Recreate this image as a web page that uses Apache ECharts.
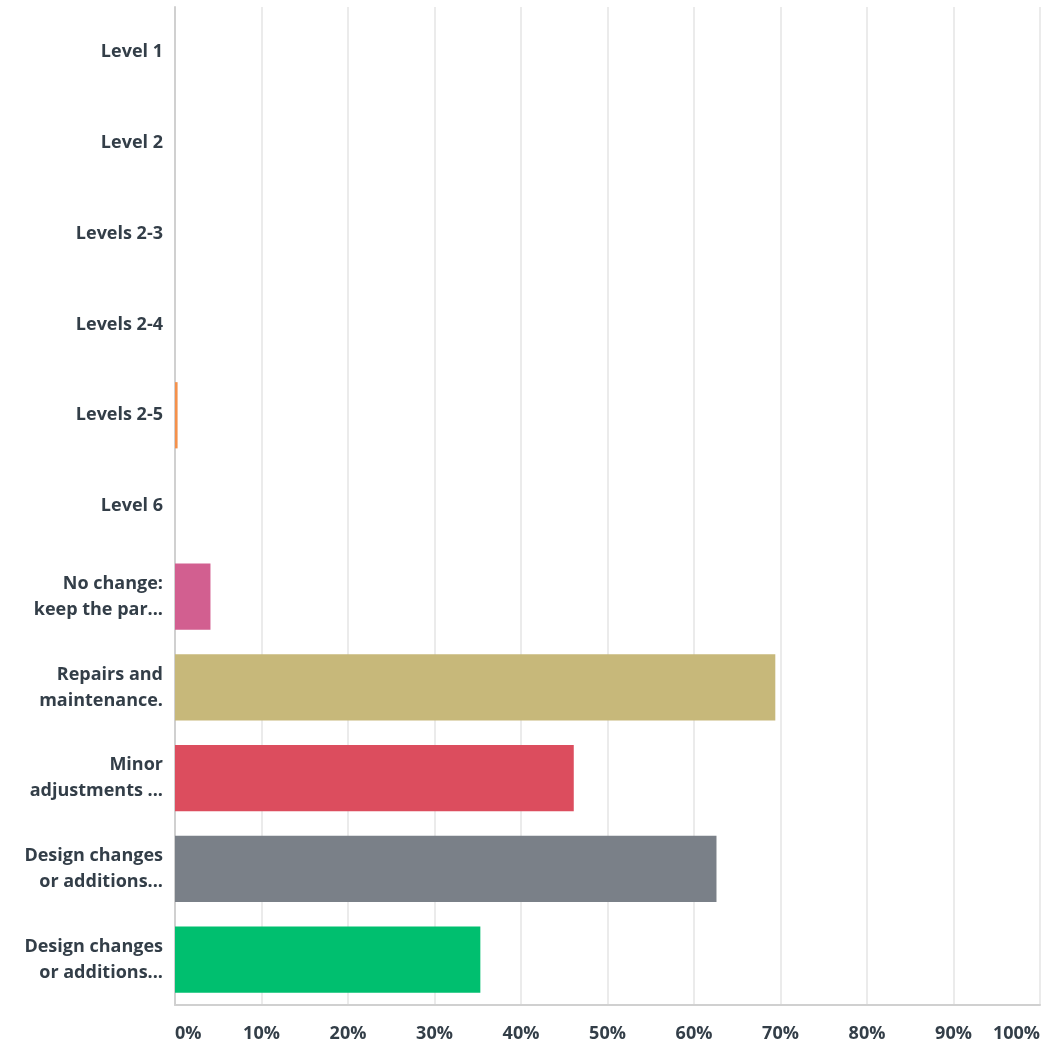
<!DOCTYPE html>
<html lang="en">
<head>
    <meta charset="UTF-8">
    <title>Chart</title>
    <script src="https://cdn.jsdelivr.net/npm/echarts@6/dist/echarts.min.js"></script>
    <style>
        html, body { margin: 0; padding: 0; background: #fff; }
        #main { width: 1043px; height: 1046px; }
    </style>
</head>
<body>
<div id="main"></div>
<script>
    var categories = ['Level 1', 'Level 2', 'Levels 2-3', 'Levels 2-4', 'Levels 2-5', 'Level 6',
        'No change:\nkeep the par...', 'Repairs and\nmaintenance.', 'Minor\nadjustments ...',
        'Design changes\nor additions...', 'Design changes\nor additions...'];
    var values = [0, 0, 0, 0, 0.3, 0, 4.1, 69.4, 46.1, 62.6, 35.3];
    var colors = ['#00bf6f', '#507cb6', '#6bc8cd', '#f9be00', '#f4914c', '#9d64b5',
        '#d25f90', '#c7b87a', '#dc4d5e', '#7a8088', '#00bf6f'];
    var tickLabels = ['0%', '10%', '20%', '30%', '40%', '50%', '60%', '70%', '80%', '90%', '100%'];

    var chart = echarts.init(document.getElementById('main'));
    var font = '"Open Sans", sans-serif';
    var option = {
        animation: false,
        grid: { left: 175, right: 1, top: 7, bottom: 41, containLabel: false },
        xAxis: {
            type: 'value',
            min: 0,
            max: 100,
            interval: 10,
            axisLine: { show: true, lineStyle: { color: '#d0d0d0', width: 2 } },
            axisTick: { show: false },
            splitLine: { show: true, lineStyle: { color: '#ebebeb', width: 2 } },
            axisLabel: {
                margin: 20,
                color: '#333e48',
                fontFamily: font,
                fontWeight: 'bold',
                fontSize: 18,
                alignMinLabel: 'left',
                alignMaxLabel: 'right',
                formatter: function (v) { return tickLabels[Math.round(v / 10)]; }
            }
        },
        yAxis: {
            type: 'category',
            inverse: true,
            data: categories,
            axisLine: { show: true, lineStyle: { color: '#d0d0d0', width: 2 } },
            axisTick: { show: false },
            axisLabel: {
                margin: 12,
                color: '#333e48',
                fontFamily: font,
                fontWeight: 'bold',
                fontSize: 18,
                lineHeight: 26,
                align: 'right'
            }
        },
        series: [{
            type: 'bar',
            barCategoryGap: '27%',
            data: values.map(function (v, i) {
                return { value: v, itemStyle: { color: colors[i] } };
            })
        }]
    };
    chart.setOption(option);
</script>
</body>
</html>
